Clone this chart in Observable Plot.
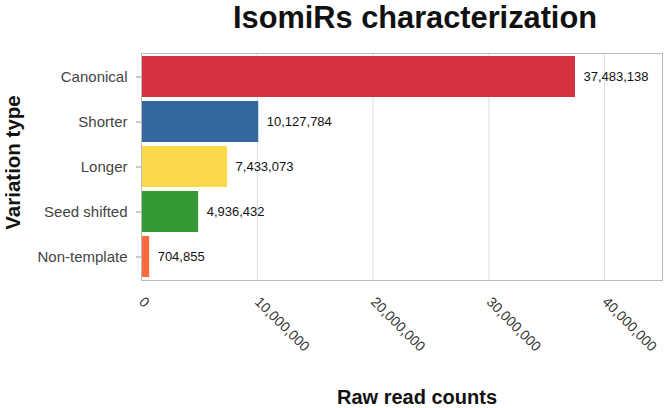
<!DOCTYPE html>
<html><head><meta charset="utf-8">
<script src="https://cdn.jsdelivr.net/npm/d3@7"></script>
<script src="https://cdn.jsdelivr.net/npm/@observablehq/plot@0.6"></script>
<style>
body{margin:0;background:#fff;font-family:"Liberation Sans",Arial,sans-serif;}
#wrap{position:relative;width:666px;height:408px;overflow:hidden;}
.lbl{position:absolute;font-weight:bold;color:#111;white-space:nowrap;text-align:center;z-index:2;}
#title{left:115px;width:600px;top:0px;font-size:30.75px;line-height:35px;}
#xlab{left:267px;width:300px;top:386.5px;font-size:20px;line-height:20px;}
#ylab{left:-88.5px;top:151.5px;width:200px;height:21px;font-size:20.5px;line-height:21px;transform:rotate(-90deg);}
#chart{position:absolute;left:0;top:0;}
</style></head>
<body><div id="wrap">
<div id="title" class="lbl">IsomiRs characterization</div>
<div id="xlab" class="lbl">Raw read counts</div>
<div id="ylab" class="lbl">Variation type</div>
<div id="chart"></div></div>
<script>
const categories = ["Canonical","Shorter","Longer","Seed shifted","Non-template"];
const counts = [37483138, 10127784, 7433073, 4936432, 704855];
const colors = ["#d3323e","#33689e","#fdd84b","#349934","#fd6a3e"];
const xTicks = [0, 10000000, 20000000, 30000000, 40000000];
const data = categories.map((c,i)=>({cat:c, v:counts[i], col:colors[i]}));
const fmt = d3.format(",");
const chart = Plot.plot({
  width: 666, height: 408,
  marginLeft: 141, marginRight: 4, marginTop: 53, marginBottom: 128,
  style: {fontFamily: '"Liberation Sans", Arial, sans-serif', fontSize: "13px", color:"#333"},
  x: {domain:[0,45000000], ticks: xTicks, label:null},
  y: {domain: categories, label:null, paddingInner:0.09, paddingOuter:0.05},
  marks: [
    Plot.gridX(xTicks, {stroke:"#d4d4d4", strokeOpacity:1, strokeWidth:0.8}),
    Plot.barX(data, {y:"cat", x:"v", fill:"col"}),
    Plot.text(data, {y:"cat", x:"v", text:d=>fmt(d.v), textAnchor:"start", dx:8, fill:"#111", fontSize:13}),
    Plot.frame({stroke:"#bbb"}),
    Plot.axisY({tickSize:5, tickPadding:9, fontSize:15, stroke:"#999", label:null, color:"#444"}),
    Plot.axisX(xTicks, {tickSize:0, tickPadding:19, tickRotate:45, fontSize:14, tickFormat:fmt, label:null, color:"#333"})
  ]
});
document.getElementById("chart").append(chart);
</script></body></html>
